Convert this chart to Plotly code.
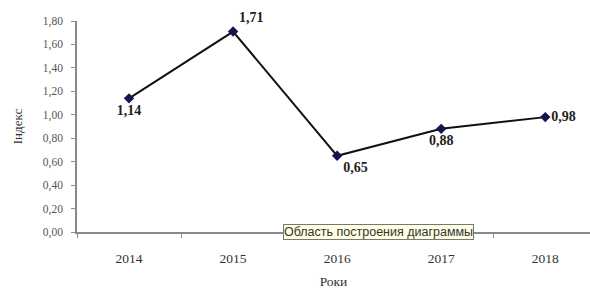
import plotly.graph_objects as go

years = ["2014", "2015", "2016", "2017", "2018"]
index_values = [1.14, 1.71, 0.65, 0.88, 0.98]
value_labels = ["1,14", "1,71", "0,65", "0,88", "0,98"]
label_positions = ["bottom center", "top right", "bottom right", "bottom center", "middle right"]
y_ticks = [0.0, 0.2, 0.4, 0.6, 0.8, 1.0, 1.2, 1.4, 1.6, 1.8]
y_tick_labels = ["0,00", "0,20", "0,40", "0,60", "0,80", "1,00", "1,20", "1,40", "1,60", "1,80"]

serif = "Liberation Serif, Times New Roman, serif"

fig = go.Figure()
fig.add_trace(go.Scatter(
    x=years, y=index_values,
    mode="lines+markers+text",
    line=dict(color="#111111", width=2),
    marker=dict(symbol="diamond", size=8, color="#141450"),
    text=value_labels,
    textposition=label_positions,
    textfont=dict(family=serif, size=14, color="#222222", weight="bold"),
    cliponaxis=False,
    showlegend=False,
))

fig.update_layout(
    width=590, height=296,
    margin=dict(l=77, r=0, t=21, b=64, autoexpand=False),
    paper_bgcolor="white", plot_bgcolor="white",
    font=dict(family=serif, size=11, color="#444444"),
    xaxis=dict(
        type="category",
        range=[-0.5, 4.43],
        automargin=False,
        showline=True, linecolor="#8a8a8a", linewidth=1.5,
        ticks="outside", tickson="boundaries", ticklen=4, tickcolor="#8a8a8a",
        showgrid=False, zeroline=False,
        tickfont=dict(family=serif, size=13.5, color="#333333"),
        ticklabelstandoff=13,
        title=dict(text="Роки", font=dict(family=serif, size=13.5, color="#333333"), standoff=12),
    ),
    yaxis=dict(
        range=[0, 1.8],
        automargin=False,
        tickvals=y_ticks, ticktext=y_tick_labels,
        showline=True, linecolor="#8a8a8a", linewidth=1.5,
        ticks="outside", ticklen=4, tickcolor="#8a8a8a",
        showgrid=False, zeroline=False,
        tickfont=dict(family=serif, size=11.5, color="#555555"),
        ticklabelstandoff=6,
        title=dict(text="Індекс", font=dict(family=serif, size=13, color="#333333"), standoff=17),
    ),
    annotations=[dict(
        text="Область построения диаграммы",
        xref="paper", yref="paper", x=0.588, y=-0.002,
        xanchor="center", yanchor="middle",
        showarrow=False,
        font=dict(family="Liberation Sans, Arial, sans-serif", size=12.5, color="#333333"),
        bgcolor="#ffffe1", bordercolor="#777777", borderwidth=1, borderpad=0,
    )],
)

fig.write_html("out.html", config={"displayModeBar": False},
               post_script="document.body.style.margin='0';")
